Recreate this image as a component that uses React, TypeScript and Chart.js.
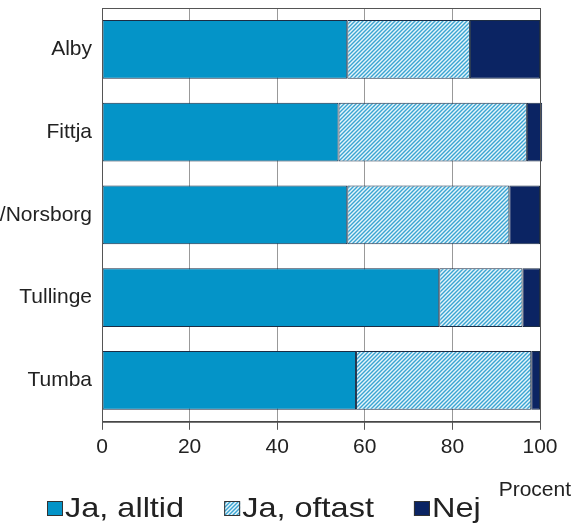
import React, { useEffect, useRef } from 'react';
import { Chart, registerables } from 'chart.js';

Chart.register(...registerables);

const categories = ['Alby', 'Fittja', 'Hallunda/Norsborg', 'Tullinge', 'Tumba'];
const jaAlltid = [56, 54, 56, 77, 58];
const jaOftast = [28, 43, 37, 19, 40];
const nej = [16, 3.5, 7, 4, 2];
const seriesLabels = ['Ja, alltid', 'Ja, oftast', 'Nej'];
const xTicks = [0, 20, 40, 60, 80, 100];
const axisTitle = 'Procent';

const FONT = "'Liberation Sans', Arial, sans-serif";

function makeHatch(): CanvasPattern | string {
  const c = document.createElement('canvas');
  c.width = 4;
  c.height = 4;
  const g = c.getContext('2d');
  if (!g) return '#8fd0e8';
  g.fillStyle = '#e6f5fb';
  g.fillRect(0, 0, 4, 4);
  g.strokeStyle = '#3aa4d2';
  g.lineWidth = 1.4;
  g.beginPath();
  g.moveTo(0, 4); g.lineTo(4, 0);
  g.moveTo(-1, 1); g.lineTo(1, -1);
  g.moveTo(3, 5); g.lineTo(5, 3);
  g.stroke();
  const p = g.createPattern(c, 'repeat');
  return p || '#8fd0e8';
}

export default function App() {
  const ref = useRef<HTMLCanvasElement>(null);

  useEffect(() => {
    document.body.style.margin = '0';
    const canvas = ref.current;
    if (!canvas) return;
    const hatch = makeHatch();
    const colors: any[] = ['#0494c8', hatch, '#0b2463'];

    const framePlugin = {
      id: 'frame',
      afterDatasetsDraw(chart: any) {
        const { ctx, chartArea } = chart;
        ctx.save();
        ctx.strokeStyle = '#555555';
        ctx.lineWidth = 1;
        ctx.strokeRect(chartArea.left + 0.5, chartArea.top + 0.5, chartArea.right - chartArea.left, chartArea.bottom - chartArea.top);
        ctx.restore();
      },
      afterDraw(chart: any) {
        const { ctx } = chart;
        ctx.save();
        // axis title
        ctx.font = `21px ${FONT}`;
        ctx.fillStyle = '#222222';
        ctx.textAlign = 'right';
        ctx.textBaseline = 'alphabetic';
        ctx.fillText(axisTitle, 571, 496);
        // legend
        const base = 517;
        const sx = 1.16;
        let x = 47;
        ctx.font = `28px ${FONT}`;
        ctx.textAlign = 'left';
        chart.data.datasets.forEach((ds: any, i: number) => {
          ctx.fillStyle = colors[i];
          ctx.fillRect(x, base - 16, 16, 15);
          ctx.strokeStyle = '#333333';
          ctx.lineWidth = 1;
          ctx.strokeRect(x + 0.5, base - 15.5, 15, 14);
          ctx.fillStyle = '#222222';
          const tx = x + 18;
          ctx.save();
          ctx.translate(tx, base);
          ctx.scale(sx, 1);
          ctx.fillText(ds.label, 0, 0);
          ctx.restore();
          x = tx + ctx.measureText(ds.label).width * sx + 40;
        });
        ctx.restore();
      },
    };

    const chart = new Chart(canvas, {
      type: 'bar',
      data: {
        labels: categories,
        datasets: [jaAlltid, jaOftast, nej].map((d, i) => ({
          label: seriesLabels[i],
          data: d,
          backgroundColor: colors[i],
          borderColor: '#1c2c44',
          borderWidth: 1,
          borderSkipped: false,
          categoryPercentage: 1,
          barPercentage: 0.71,
          clip: false as any,
        })),
      },
      options: {
        indexAxis: 'y',
        animation: false,
        responsive: false,
        layout: { padding: { top: 8, right: 45, bottom: 60, left: 0 } },
        plugins: {
          legend: { display: false },
          tooltip: { enabled: false },
        },
        scales: {
          x: {
            stacked: true,
            min: 0,
            max: 100,
            afterBuildTicks(scale: any) {
              scale.ticks = xTicks.map((v) => ({ value: v }));
            },
            ticks: {
              font: { family: FONT, size: 21 },
              color: '#222222',
              padding: 5,
            },
            grid: {
              color: '#999999',
              lineWidth: 1,
              tickLength: 8,
              tickColor: '#555555',
            },
            border: { display: true, color: '#444444' },
          },
          y: {
            stacked: true,
            afterFit(scale: any) {
              scale.width = 102;
              scale.paddingTop = 0;
              scale.paddingBottom = 0;
            },
            ticks: {
              font: { family: FONT, size: 21 },
              color: '#222222',
              padding: 10,
            },
            grid: { display: false, drawTicks: false },
            border: { display: true, color: '#444444' },
          },
        },
      },
      plugins: [framePlugin],
    });
    return () => chart.destroy();
  }, []);

  return (
    <div style={{ position: 'absolute', left: 0, top: 0, width: 585, height: 525 }}>
      <canvas ref={ref} width={585} height={525} />
    </div>
  );
}
